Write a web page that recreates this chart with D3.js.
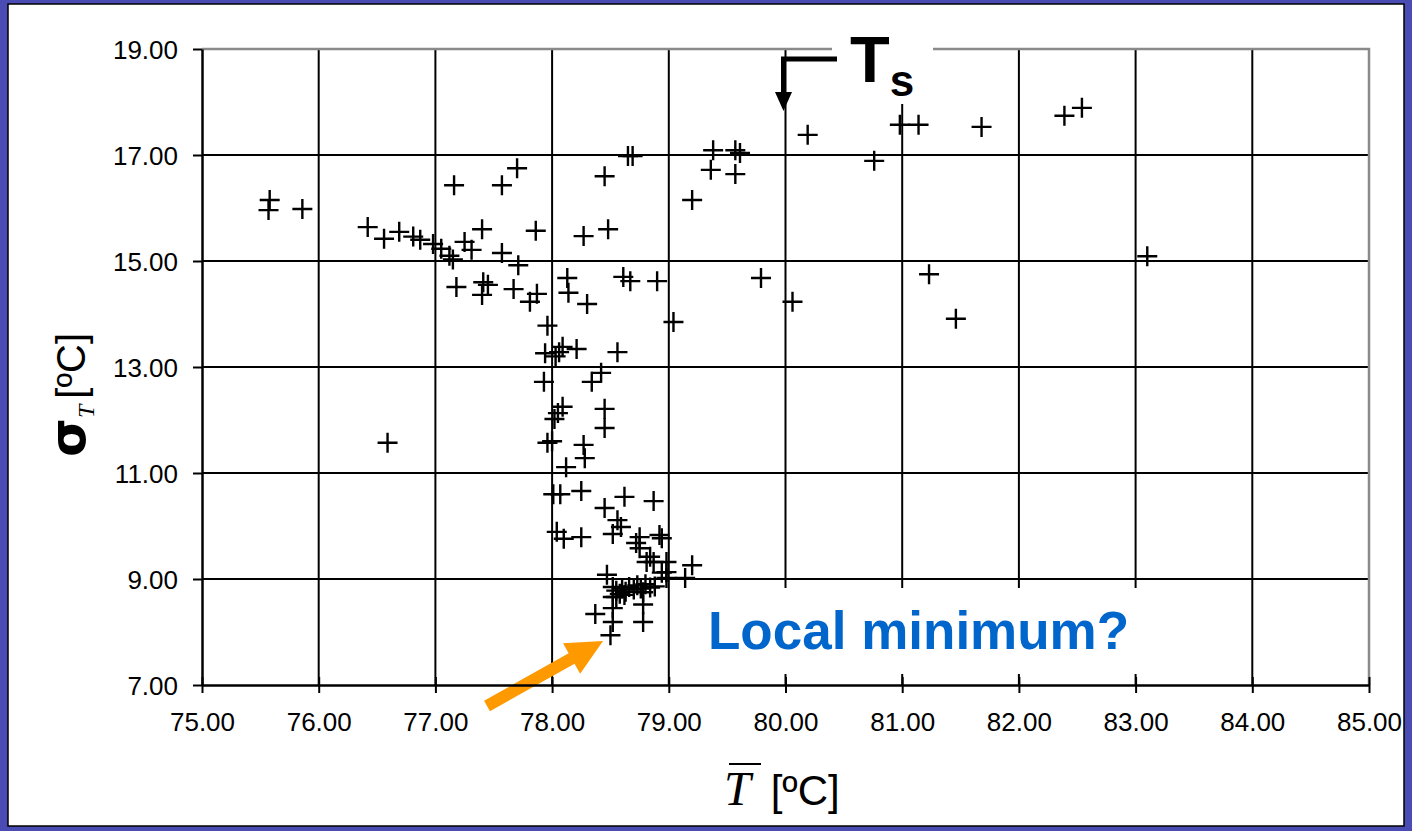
<!DOCTYPE html>
<html>
<head>
<meta charset="utf-8">
<script src="https://cdn.jsdelivr.net/npm/d3@7"></script>
<style>
  html, body { margin: 0; padding: 0; background: #4b4bb4; }
  svg { display: block; }
</style>
</head>
<body>
<svg id="chart" width="1412" height="831"></svg>
<script>
// Mean temperature (ºC) of each run
const meanTemp = [
  75.58, 75.57, 75.86, 76.42, 76.56, 76.69, 76.81, 76.87, 76.98, 77.05,
  77.12, 77.15, 77.25, 77.31, 77.40, 77.57, 77.71, 77.86, 78.27, 78.48,
  79.20, 77.16, 77.57, 77.70, 78.45, 78.65, 78.69, 77.18, 77.41, 77.45,
  77.40, 77.67, 77.81, 77.87, 78.13, 78.14, 78.30, 77.96, 78.61, 78.67,
  78.90, 79.04, 79.38, 79.36, 79.57, 79.61, 79.57, 80.19, 80.76, 80.98,
  81.14, 81.68, 82.39, 82.54, 83.10, 79.79, 80.06, 81.23, 81.46, 76.59,
  77.94, 78.03, 78.09, 78.06, 78.21, 78.56, 77.93, 78.34, 78.42, 78.09,
  78.05, 78.02, 78.45, 78.45, 77.96, 78.00, 78.27, 78.28, 78.12, 78.01,
  78.07, 78.25, 78.62, 78.87, 78.45, 78.56, 78.59, 78.52, 78.04, 78.10,
  78.25, 78.75, 78.92, 78.94, 78.72, 78.75, 78.84, 78.81, 78.87, 78.98,
  78.98, 79.20, 79.14, 78.98, 78.47, 78.52, 78.55, 78.58, 78.60, 78.63,
  78.66, 78.70, 78.73, 78.76, 78.78, 78.80, 78.84, 78.88, 78.55, 78.62,
  78.52, 78.52, 78.78, 78.37, 78.52, 78.78, 78.50, 78.94
];

// Standard deviation of temperature (ºC) of each run
const sigmaTemp = [
  16.15, 15.96, 15.98, 15.64, 15.42, 15.55, 15.46, 15.40, 15.32, 15.23,
  15.10, 15.03, 15.36, 15.21, 15.60, 15.15, 14.92, 15.57, 15.47, 15.60,
  16.15, 16.43, 16.43, 16.75, 16.60, 16.98, 16.98, 14.51, 14.60, 14.55,
  14.36, 14.47, 14.23, 14.38, 14.68, 14.40, 14.19, 13.78, 14.70, 14.62,
  14.62, 13.85, 17.09, 16.72, 17.09, 17.04, 16.64, 17.38, 16.89, 17.57,
  17.57, 17.53, 17.74, 17.89, 15.09, 14.68, 14.23, 14.75, 13.91, 11.57,
  13.26, 13.20, 13.38, 13.28, 13.34, 13.28, 12.72, 12.72, 12.89, 12.25,
  12.13, 12.02, 12.21, 11.85, 11.57, 11.60, 11.53, 11.28, 11.11, 10.60,
  10.60, 10.66, 10.55, 10.47, 10.34, 10.11, 9.98, 9.85, 9.89, 9.76,
  9.79, 9.79, 9.83, 9.77, 9.68, 9.58, 9.42, 9.32, 9.32, 9.32,
  9.13, 9.26, 9.02, 9.02, 9.08, 8.85, 8.78, 8.72, 8.82, 8.76,
  8.85, 8.80, 8.88, 8.82, 8.75, 8.90, 8.84, 8.86, 8.66, 8.70,
  8.66, 8.45, 8.52, 8.34, 8.19, 8.19, 7.94, 9.12
];

// Axis ticks
const xTicks = [75, 76, 77, 78, 79, 80, 81, 82, 83, 84, 85];
const yTicks = [7, 9, 11, 13, 15, 17, 19];

const svg = d3.select("#chart");
const W = 1412, H = 831;
const plot = { left: 202, right: 1369, top: 49, bottom: 685 };

const x = d3.scaleLinear().domain([75, 85]).range([plot.left, plot.right]);
const y = d3.scaleLinear().domain([7, 19]).range([plot.bottom, plot.top]);
const fmt = d3.format(".2f");

// Slide frame: blue surround with a white panel
svg.append("rect").attr("x", 0).attr("y", 0).attr("width", W).attr("height", H).attr("fill", "#4b4bb4");
svg.append("rect").attr("x", 8).attr("y", 4).attr("width", W - 16).attr("height", H - 9)
  .attr("fill", "#ffffff").attr("stroke", "#000").attr("stroke-width", 1.5);

// Grid
const grid = svg.append("g");
grid.selectAll("line.v").data(xTicks.slice(1, -1)).join("line")
  .attr("x1", d => x(d)).attr("x2", d => x(d))
  .attr("y1", plot.top).attr("y2", plot.bottom)
  .attr("stroke", "#000").attr("stroke-width", 2);
grid.selectAll("line.h").data(yTicks.slice(1, -1)).join("line")
  .attr("x1", plot.left).attr("x2", plot.right)
  .attr("y1", d => y(d)).attr("y2", d => y(d))
  .attr("stroke", "#000").attr("stroke-width", 2);

// Plot-area border (top and right)
svg.append("path")
  .attr("d", `M${plot.left},${plot.top}H${plot.right}V${plot.bottom}`)
  .attr("fill", "none").attr("stroke", "#8a8a8a").attr("stroke-width", 2.5);

// Points as plus markers
const pts = meanTemp.map((t, i) => [t, sigmaTemp[i]]);
svg.append("g").selectAll("path").data(pts).join("path")
  .attr("transform", d => `translate(${x(d[0])},${y(d[1])})`)
  .attr("d", "M-10,0H10M0,-10V10")
  .attr("fill", "none").attr("stroke", "#000").attr("stroke-width", 2.4);

// "Local minimum?" callout, on a white box over the grid
svg.append("rect").attr("x", 700).attr("y", 588).attr("width", 440).attr("height", 86).attr("fill", "#fff");
svg.append("text").attr("x", 708).attr("y", 649)
  .attr("font-family", "Liberation Sans, Arial, sans-serif").attr("font-weight", "bold")
  .attr("font-size", 53).attr("fill", "#0066cc")
  .text("Local minimum?");

// Orange arrow pointing at the lowest points
(function () {
  const x0 = 487, y0 = 706, x1 = 603, y1 = 641;
  const dx = x1 - x0, dy = y1 - y0, len = Math.hypot(dx, dy);
  const ux = dx / len, uy = dy / len, px = -uy, py = ux;
  const head = 36, hw = 17.5, sw = 6;
  const bx = x1 - ux * head, by = y1 - uy * head;
  const p = [
    [x0 + px * sw, y0 + py * sw],
    [bx + px * sw, by + py * sw],
    [bx + px * hw, by + py * hw],
    [x1, y1],
    [bx - px * hw, by - py * hw],
    [bx - px * sw, by - py * sw],
    [x0 - px * sw, y0 - py * sw]
  ];
  svg.append("path").attr("d", "M" + p.map(q => q.join(",")).join("L") + "Z").attr("fill", "#ff9900");
})();

// Ts marker: white label box over the top border, bent arrow down to 80 ºC
svg.append("rect").attr("x", 832).attr("y", 18).attr("width", 101).attr("height", 86).attr("fill", "#fff");
const tsX = x(80) - 2;
svg.append("path")
  .attr("d", `M837,59H${tsX}V95`)
  .attr("fill", "none").attr("stroke", "#000").attr("stroke-width", 5);
svg.append("path")
  .attr("d", `M${tsX - 8.5},92L${tsX + 8.5},92L${tsX},111Z`).attr("fill", "#000");
const ts = svg.append("text").attr("x", 850).attr("y", 82)
  .attr("font-family", "Liberation Sans, Arial, sans-serif").attr("font-weight", "bold");
ts.append("tspan").attr("font-size", 65).text("T");
ts.append("tspan").attr("font-size", 44).attr("dx", 0).attr("dy", 14).text("s");

// Axes
const axisFont = "Liberation Sans, Arial, sans-serif";
const gx = svg.append("g").attr("transform", `translate(0,${plot.bottom})`)
  .call(d3.axisBottom(x).tickValues(xTicks).tickFormat(fmt).tickSize(8).tickPadding(20).tickSizeOuter(0));
gx.selectAll(".tick line").attr("y1", -8).attr("stroke", "#000").attr("stroke-width", 2);
gx.select(".domain").attr("stroke", "#000").attr("stroke-width", 2.5);
gx.selectAll(".tick text").attr("font-family", axisFont).attr("font-size", 26).attr("fill", "#000");

const gy = svg.append("g").attr("transform", `translate(${plot.left},0)`)
  .call(d3.axisLeft(y).tickValues(yTicks).tickFormat(fmt).tickSize(9).tickPadding(15).tickSizeOuter(0));
gy.selectAll(".tick line").attr("stroke", "#000").attr("stroke-width", 2);
gy.select(".domain").attr("stroke", "#000").attr("stroke-width", 2.5);
gy.selectAll(".tick text").attr("font-family", axisFont).attr("font-size", 26).attr("fill", "#000").attr("dy", "0.36em");

// X axis title: T-bar [ºC]
const xt = svg.append("text").attr("x", 724).attr("y", 805);
xt.append("tspan").attr("font-family", "Liberation Serif, Times New Roman, serif")
  .attr("font-style", "italic").attr("font-size", 48).text("T");
xt.append("tspan").attr("font-family", axisFont).attr("font-size", 42).attr("dx", 20).text("[ºC]");
svg.append("line").attr("x1", 729).attr("x2", 761).attr("y1", 764).attr("y2", 764)
  .attr("stroke", "#000").attr("stroke-width", 2);

// Y axis title: σ_T [ºC]
const yt = svg.append("text")
  .attr("transform", "translate(85,395) rotate(-90)")
  .attr("text-anchor", "middle");
yt.append("tspan").attr("font-family", "DejaVu Sans, sans-serif").attr("font-weight", "bold")
  .attr("font-size", 50).text("σ");
yt.append("tspan").attr("font-family", "Liberation Serif, Times New Roman, serif")
  .attr("font-style", "italic").attr("font-size", 24).attr("dy", 9).text("T");
yt.append("tspan").attr("font-family", axisFont).attr("font-size", 40).attr("dy", -9).attr("dx", 6).text("[ºC]");
</script>
</body>
</html>
